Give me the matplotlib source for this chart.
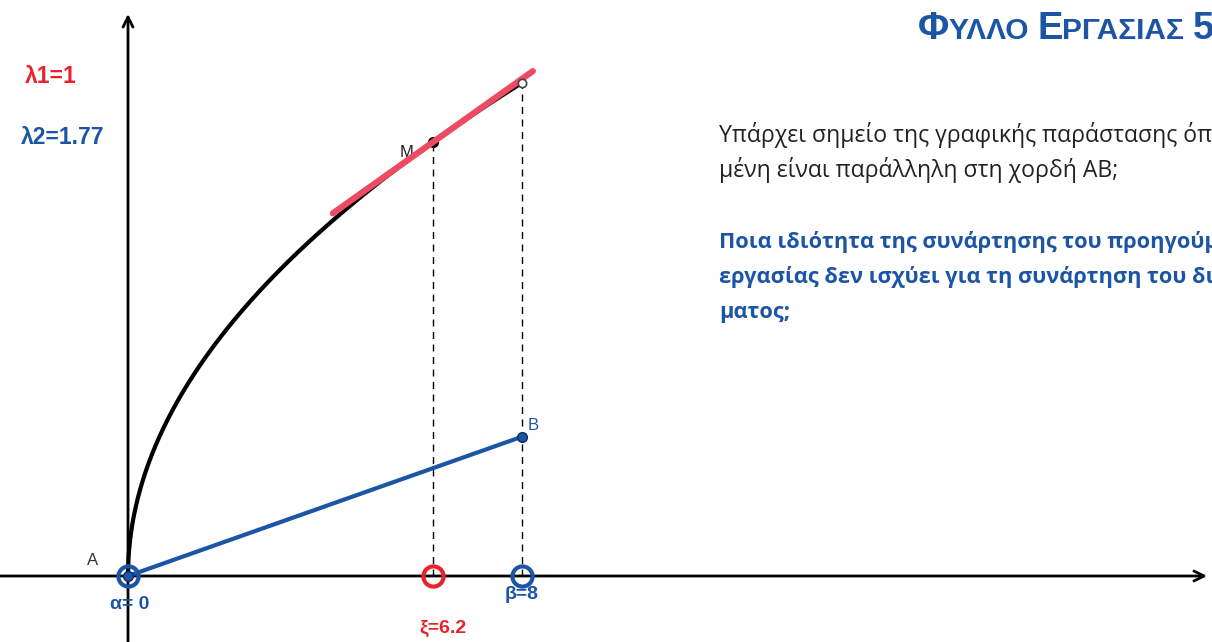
import numpy as np
import matplotlib
matplotlib.use("Agg")
import matplotlib.pyplot as plt

# ---- data ----
lambda1 = 1
lambda2 = 1.77
alpha = 0.0
beta = 8.0
xi = 6.2
curve_coef = 2 * lambda2          # f(x) = 2*λ2*sqrt(x)
B_y = lambda1 * np.sqrt(beta)     # B = (β, λ1*sqrt(β)) ≈ 2.83
tangent_x = [4.16, 8.22]

title_parts = [("Φ", 27.5), ("ΥΛΛΟ ", 21.5), ("Ε", 27.5), ("ΡΓΑΣΙΑΣ ", 21.5), ("5", 27.5)]
question_lines = ["Υπάρχει σημείο της γραφικής παράστασης όπου η εφαπτο-",
                  "μένη είναι παράλληλη στη χορδή AB;"]
task_lines = ["Ποια ιδιότητα της συνάρτησης του προηγούμενου φύλλου",
              "εργασίας δεν ισχύει για τη συνάρτηση του διαγράμ-",
              "ματος;"]

BLUE = "#1c54a6"
RED = "#e8232c"
TAN = "#ee4a62"

W, H = 1212, 642
fig = plt.figure(figsize=(W / 100, H / 100), dpi=100)
ax = fig.add_axes([0, 0, 1, 1])
ax.set_axis_off()
ox, oy, s = 128, 576, 49.25
ax.set_xlim(-ox / s, (W - ox) / s)
ax.set_ylim((oy - H) / s, oy / s)

def f(x):
    return curve_coef * np.sqrt(x)

# axes with arrows
ax.annotate("", xy=(0, (oy - 14) / s), xytext=(0, (oy - H) / s - 0.1),
            arrowprops=dict(arrowstyle="->", lw=2, color="black", mutation_scale=18,
                            shrinkA=0, shrinkB=0), zorder=1)
ax.annotate("", xy=((1207 - ox) / s, 0), xytext=(-ox / s - 0.1, 0),
            arrowprops=dict(arrowstyle="->", lw=2, color="black", mutation_scale=18,
                            shrinkA=0, shrinkB=0), zorder=1)

# curve
xs = np.linspace(0, beta, 800)
ax.plot(xs, f(xs), color="black", lw=3, zorder=3, solid_capstyle="round")

# dashed verticals
for xv in (xi, beta):
    ax.plot([xv, xv], [0, f(xv)], color="black", lw=1.0, ls=(0, (5, 4)), zorder=2)

# chord A-B
ax.plot([alpha, beta], [0, B_y], color=BLUE, lw=3, zorder=4, solid_capstyle="round")

# tangent at M
slope = curve_coef / (2 * np.sqrt(xi))
tx = np.array(tangent_x)
ax.plot(tx, f(xi) + slope * (tx - xi), color=TAN, lw=4.5, zorder=5, solid_capstyle="round")

# points
ax.plot([xi], [f(xi)], "o", color="black", ms=7, zorder=4)
ax.plot([beta], [f(beta)], "o", mfc="white", mec="#444444", mew=1.2, ms=6, zorder=6)
ax.plot([beta], [B_y], "o", color=BLUE, mec="#0d2a5a", mew=1, ms=7, zorder=6)
ax.plot([alpha], [0], "o", color=BLUE, mec="#0d2a5a", mew=1, ms=7, zorder=7)
for xv, c in ((alpha, BLUE), (xi, RED), (beta, BLUE)):
    ax.plot([xv], [0], "o", mfc="none", mec=c, mew=3, ms=14.5, zorder=8)

fam = ["Liberation Sans", "DejaVu Sans"]
def px(x, y):
    return x / W, 1 - y / H

# point labels
ax.text(*px(93, 565), "A", transform=fig.transFigure, ha="center", va="baseline",
        fontsize=12, color="#333333", family=fam)
ax.text(*px(407, 157), "M", transform=fig.transFigure, ha="center", va="baseline",
        fontsize=12, color="#222222", family=fam)
ax.text(*px(533, 430), "B", transform=fig.transFigure, ha="center", va="baseline",
        fontsize=12, color=BLUE, family=fam)
ax.text(*px(130, 609), "α= 0", transform=fig.transFigure, ha="center", va="baseline",
        fontsize=14, color=BLUE, fontweight="bold", family=fam)
ax.text(*px(522, 599), "β=8", transform=fig.transFigure, ha="center", va="baseline",
        fontsize=14, color=BLUE, fontweight="bold", family=fam)
ax.text(*px(443, 633), "ξ=6.2", transform=fig.transFigure, ha="center", va="baseline",
        fontsize=14, color=RED, fontweight="bold", family=fam)

# parameters
ax.text(*px(25, 83), f"λ1={lambda1}", transform=fig.transFigure, ha="left", va="baseline",
        fontsize=16.5, color=RED, fontweight="bold", family=fam)
ax.text(*px(21, 144), f"λ2={lambda2}", transform=fig.transFigure, ha="left", va="baseline",
        fontsize=16.5, color=BLUE, fontweight="bold", family=fam)

# title in small caps, pieces placed one after another
fig.canvas.draw()
renderer = fig.canvas.get_renderer()
x0 = 918
for txt, size in title_parts:
    t = fig.text(x0 / W, 1 - 39 / H, txt, ha="left", va="baseline", fontsize=size,
                 color=BLUE, fontweight="bold", family=fam)
    bb = t.get_window_extent(renderer=renderer)
    x0 += bb.width

# question text
for i, line in enumerate(question_lines):
    fig.text(719 / W, 1 - (142 + 35 * i) / H, line, ha="left", va="baseline",
             fontsize=16.6, color="#222222", family=["Open Sans", "DejaVu Sans"])
for i, line in enumerate(task_lines):
    fig.text(719 / W, 1 - (248 + 35 * i) / H, line, ha="left", va="baseline",
             fontsize=15.7, color=BLUE, fontweight="bold", family=["Open Sans", "DejaVu Sans"])

fig.savefig("out.png", dpi=100)
